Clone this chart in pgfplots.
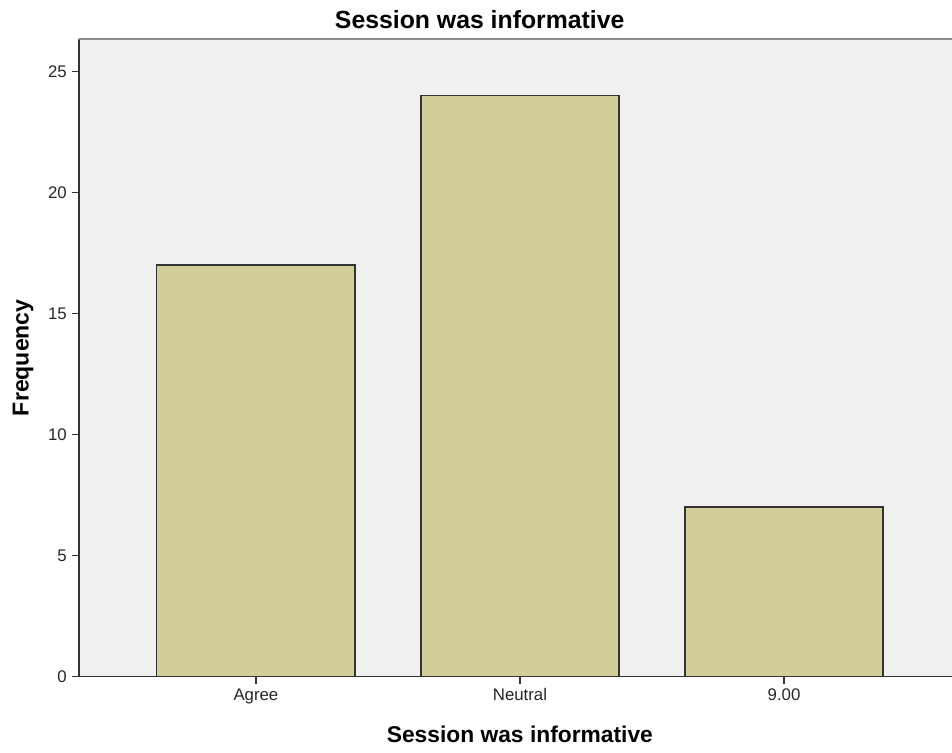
\documentclass[border=0pt]{standalone}
\usepackage{fontspec}
\setmainfont{Liberation Sans}
\usepackage{pgfplots}
\pgfplotsset{compat=1.18}
\definecolor{bgc}{HTML}{F0F0F0}
\definecolor{barc}{HTML}{D3CE97}
\definecolor{edgec}{HTML}{333333}
\definecolor{topc}{HTML}{8A8A8A}
\begin{document}
\begin{tikzpicture}
\begin{axis}[
  name=ax,
  scale only axis,
  width=654.75pt, height=478.1pt,
  xmin=-0.670, xmax=2.636,
  ymin=0, ymax=26.34,
  axis x line*=bottom, axis y line*=left,
  axis line style={edgec, line width=0.9pt},
  axis background/.style={fill=bgc},
  ytick={0,5,10,15,20,25},
  xtick={0,1,2},
  xticklabels={Agree,Neutral,9.00},
  tick align=outside,
  major tick length=5.5pt,
  tick style={edgec, line width=0.9pt},
  /pgf/number format/assume math mode=true,
  ticklabel style={font=\fontsize{12.6pt}{14pt}\selectfont, text=black!85},
  yticklabel style={anchor=east, inner sep=0pt, xshift=-3.5pt},
  xticklabel style={anchor=base, inner sep=0pt, yshift=-12.5pt},
  title={Session was informative},
  title style={font=\bfseries\fontsize{18.6pt}{20pt}\selectfont, at={(0.459,1)}, anchor=base, yshift=1.5pt},
  xlabel={Session was informative},
  xlabel style={font=\bfseries\fontsize{17.1pt}{19pt}\selectfont, at={(0.505,0)}, anchor=base, yshift=-49.9pt},
  ylabel={Frequency},
  ylabel style={font=\bfseries\fontsize{17.3pt}{19pt}\selectfont, at={(0,0.5)}, anchor=center, yshift=42pt},
  clip=false,
]
\addplot[ybar, bar width=0.75, fill=barc, draw=edgec, line width=0.9pt] coordinates {(0,17) (1,24) (2,7)};
\draw[topc, line width=1.2pt] (rel axis cs:0,1) -- (rel axis cs:1,1);
\end{axis}
\pgfresetboundingbox
\path[use as bounding box] ([xshift=-59.25pt,yshift=-57.4pt]ax.south west) rectangle ([yshift=29.25pt]ax.north east);
\end{tikzpicture}
\end{document}
